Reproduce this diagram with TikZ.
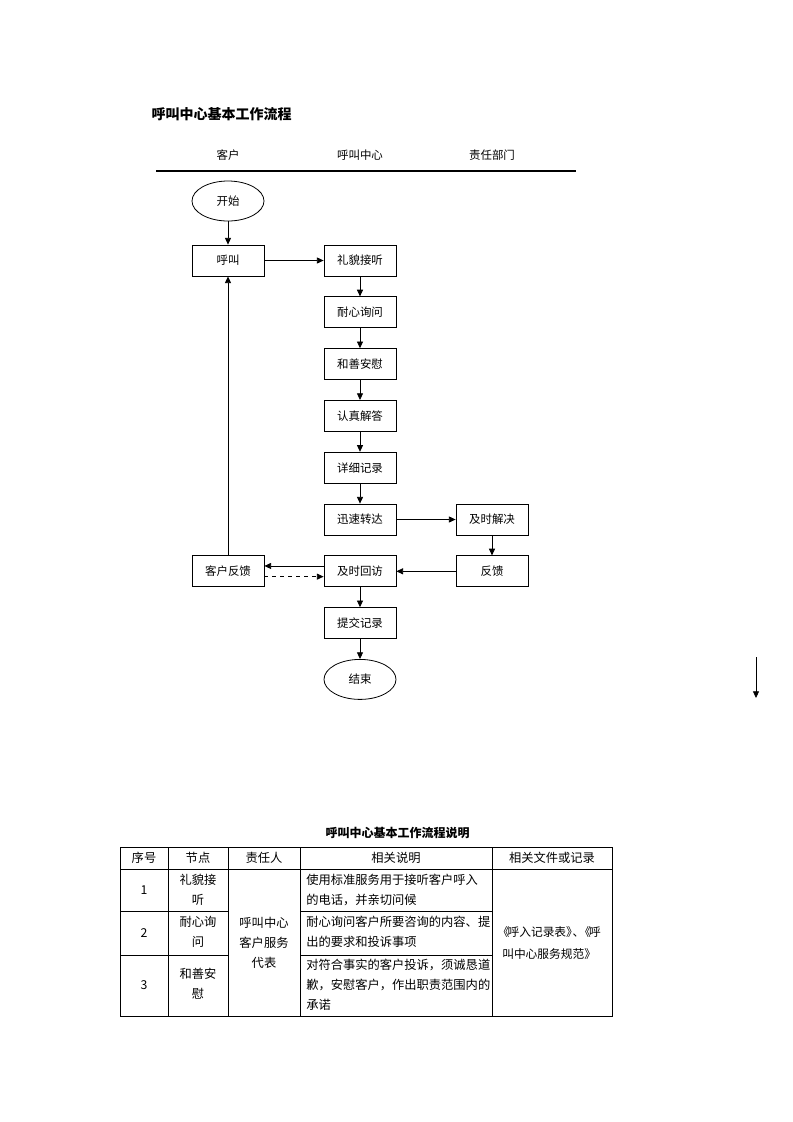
\documentclass[tikz,border=0pt]{standalone}
\usepackage{fontspec}
\setmainfont{Noto Sans CJK SC}
\usetikzlibrary{shapes.geometric,arrows.meta,positioning}

\begin{document}
\begin{tikzpicture}[
  x=0.75pt, y=-0.75pt,
  stepbox/.style={rectangle, draw=black, line width=0.6pt,
    minimum width=54pt, minimum height=23.25pt, inner sep=1pt,
    font=\fontsize{8.6}{10}\selectfont},
  terminal/.style={ellipse, draw=black, line width=0.6pt,
    minimum width=54pt, minimum height=30pt, inner sep=0pt,
    font=\fontsize{8.6}{10}\selectfont},
  lane/.style={font=\fontsize{8.6}{10}\selectfont},
  arrow/.style={-{Triangle[length=5pt,width=4.5pt]}, line width=0.6pt},
  darrow/.style={arrow, dashed},
  cell/.style={inner sep=0pt, align=center, font=\fontsize{9.2}{15}\selectfont},
  note/.style={cell, align=left, anchor=west},
  node distance=15pt and 44.4pt
]
\useasboundingbox (0,0) rectangle (793,1122);

% Heading and swimlane labels
\node[anchor=west, font=\fontsize{10.5}{12}\selectfont\bfseries] (title) at (147,114) {呼叫中心基本工作流程};
\node[lane] (lane_kehu) at (228,155) {客户};
\node[lane] (lane_center) at (360,155) {呼叫中心};
\node[lane] (lane_dept) at (492,155) {责任部门};
\draw[line width=0.8pt] (156,171) -- (576,171);

% Customer column
\node[terminal] (start) at (228,201) {开始};
\node[stepbox] (hujiao) at (228,260.5) {呼叫};

% Call center column
\node[stepbox, right=of hujiao] (answer) {礼貌接听};
\node[stepbox, below=of answer] (ask) {耐心询问};
\node[stepbox, below=of ask] (comfort) {和善安慰};
\node[stepbox, below=of comfort] (reply) {认真解答};
\node[stepbox, below=of reply] (record) {详细记录};
\node[stepbox, below=of record] (forward) {迅速转达};

% Department column
\node[stepbox, right=of forward] (solve) {及时解决};
\node[stepbox, below=of solve] (feedback) {反馈};

% Back to the center and the customer
\node[stepbox, left=of feedback] (revisit) {及时回访};
\node[stepbox, left=of revisit] (kehu_fb) {客户反馈};
\node[stepbox, below=of revisit] (submit) {提交记录};
\node[terminal, below=of submit] (finish) {结束};

\draw[arrow] (start) -- (hujiao);
\draw[arrow] (hujiao) -- (answer);
\draw[arrow] (answer) -- (ask);
\draw[arrow] (ask) -- (comfort);
\draw[arrow] (comfort) -- (reply);
\draw[arrow] (reply) -- (record);
\draw[arrow] (record) -- (forward);
\draw[arrow] (forward) -- (solve);
\draw[arrow] (solve) -- (feedback);
\draw[arrow] (feedback) -- (revisit);
\draw[arrow] ([yshift=4pt]revisit.west) -- ([yshift=4pt]kehu_fb.east);
\draw[darrow] ([yshift=-4pt]kehu_fb.east) -- ([yshift=-4pt]revisit.west);
\draw[arrow] (kehu_fb) -- (hujiao);
\draw[arrow] (revisit) -- (submit);
\draw[arrow] (submit) -- (finish);

% lone arrow at the right margin
\coordinate (stray_top) at (756,657);
\coordinate (stray_end) at (756,698);
\draw[arrow] (stray_top) -- (stray_end);

% Explanation table
\node[font=\fontsize{9}{11}\selectfont\bfseries] (tab_title) at (397.5,833) {呼叫中心基本工作流程说明};
\draw[line width=0.6pt] (120,847) rectangle (612.5,1016);
\draw[line width=0.6pt] (120,869) -- (612.5,869);
\draw[line width=0.6pt] (120,911) -- (228,911) (300,911) -- (492.5,911);
\draw[line width=0.6pt] (120,955) -- (228,955) (300,955) -- (492.5,955);
\foreach \cx in {168,228,300,492.5}
  \draw[line width=0.6pt] (\cx,847) -- (\cx,1016);

\node[cell] (h_no) at (144,858) {序号};
\node[cell] (h_node) at (198,858) {节点};
\node[cell] (h_owner) at (264,858) {责任人};
\node[cell] (h_note) at (396,858) {相关说明};
\node[cell] (h_doc) at (552,858) {相关文件或记录};

\node[cell] (no_1) at (144,890) {1};
\node[cell] (no_2) at (144,933) {2};
\node[cell] (no_3) at (144,985.5) {3};
\node[cell] (node_1) at (198,890) {礼貌接\\听};
\node[cell] (node_2) at (198,932) {耐心询\\问};
\node[cell] (node_3) at (198,984) {和善安\\慰};
\node[cell] (owner) at (264,942.5) {呼叫中心\\客户服务\\代表};
\node[note] (note_1) at (306,890) {使用标准服务用于接听客户呼入\\的电话，并亲切问候};
\node[note] (note_2) at (306,932) {耐心询问客户所要咨询的内容、提\\出的要求和投诉事项};
\node[note] (note_3) at (306,985) {对符合事实的客户投诉，须诚恳道\\歉，安慰客户，作出职责范围内的\\承诺};
\node[note, font=\fontsize{8.8}{16}\selectfont] (doc) at (502,943)
  {\kern-0.4em《\kern-0.15em 呼入记录表》\kern-0.45em、\kern-0.45em《\kern-0.15em 呼\\叫中心服务规范》};

\end{tikzpicture}
\end{document}
